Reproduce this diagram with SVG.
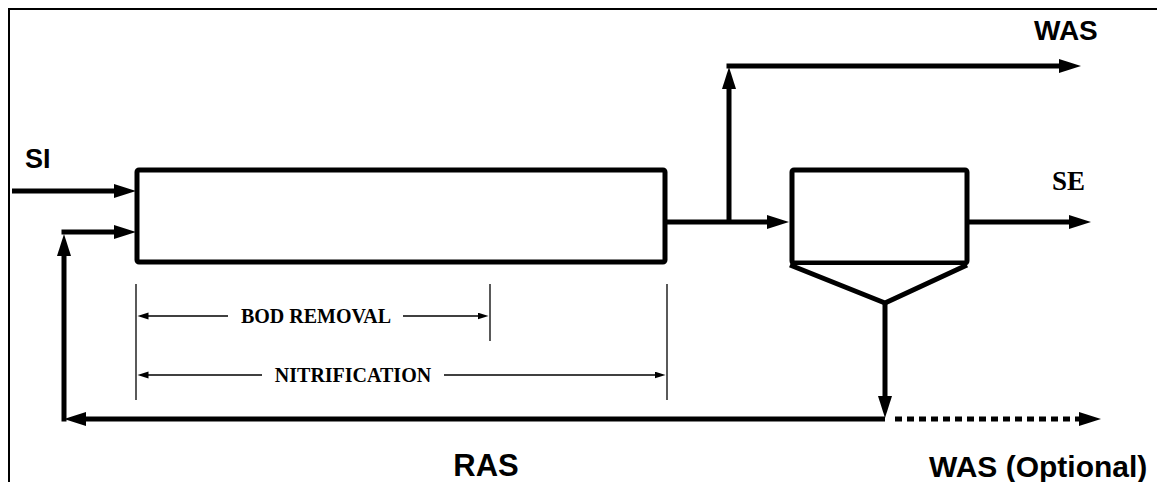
<svg xmlns="http://www.w3.org/2000/svg" width="1157" height="482" viewBox="0 0 1157 482">
<style>
.frame{fill:none;stroke:#000;stroke-width:2}
.unit{fill:#fff;stroke:#000;stroke-width:5;stroke-linejoin:round}
.flow{fill:none;stroke:#000;stroke-width:5}
.dot{fill:none;stroke:#000;stroke-width:5;stroke-dasharray:7 5}
.dim{fill:none;stroke:#000;stroke-width:1.3}
.lbl{font-family:"Liberation Sans",Arial,sans-serif;font-weight:bold;fill:#000}
.lbs{font-family:"Liberation Serif","Times New Roman",serif;font-weight:bold;fill:#000}
</style>
<defs>
<marker id="ah" markerUnits="userSpaceOnUse" markerWidth="24" markerHeight="16" refX="1" refY="7" orient="auto">
<path d="M0,0 L22,7 L0,14 z" fill="#000"/>
</marker>
<marker id="as" markerUnits="userSpaceOnUse" markerWidth="14" markerHeight="8" refX="0.5" refY="3.5" orient="auto">
<path d="M0,0 L11,3.5 L0,7 z" fill="#000"/>
</marker>
</defs>
<rect width="1157" height="482" fill="#fff"/>
<path class="frame" d="M9,482 L9,9 L1157,9"/>

<g id="aeration-tank">
<rect class="unit" x="137" y="170" width="528" height="92" rx="2"/>
</g>
<g id="clarifier">
<rect class="unit" x="792" y="170" width="175" height="93" rx="2"/>
<polyline class="unit" points="790,265 885,303 967,265" fill="none"/>
</g>

<g id="connectors">
<line class="flow" x1="12" y1="191" x2="115" y2="191" marker-end="url(#ah)"/>
<line class="flow" x1="64" y1="421.5" x2="64" y2="255" marker-end="url(#ah)"/>
<line class="flow" x1="61.5" y1="232" x2="115" y2="232" marker-end="url(#ah)"/>
<line class="flow" x1="665" y1="222" x2="768" y2="222" marker-end="url(#ah)"/>
<line class="flow" x1="729" y1="222" x2="729" y2="88" marker-end="url(#ah)"/>
<line class="flow" x1="726.5" y1="66" x2="1060" y2="66" marker-end="url(#ah)"/>
<line class="flow" x1="967" y1="222" x2="1070" y2="222" marker-end="url(#ah)"/>
<line class="flow" x1="885" y1="303" x2="885" y2="397" marker-end="url(#ah)"/>
<line class="flow" x1="885" y1="419" x2="85" y2="419" marker-end="url(#ah)"/>
<line class="dot" x1="895" y1="419" x2="1080" y2="419" marker-end="url(#ah)"/>
</g>

<g id="dimensions">
<line class="dim" x1="136" y1="284" x2="136" y2="400"/>
<line class="dim" x1="490" y1="284" x2="490" y2="341"/>
<line class="dim" x1="667" y1="284" x2="667" y2="400"/>
<line class="dim" x1="228" y1="316" x2="148" y2="316" marker-end="url(#as)"/>
<line class="dim" x1="403" y1="316" x2="478" y2="316" marker-end="url(#as)"/>
<line class="dim" x1="262" y1="375" x2="148" y2="375" marker-end="url(#as)"/>
<line class="dim" x1="444" y1="375" x2="655" y2="375" marker-end="url(#as)"/>
<text class="lbs" x="316" y="323" font-size="20" text-anchor="middle">BOD REMOVAL</text>
<text class="lbs" x="353" y="382" font-size="20" text-anchor="middle">NITRIFICATION</text>
</g>

<g id="labels">
<text class="lbl" x="25" y="168" font-size="27">SI</text>
<text class="lbl" x="1034" y="40" font-size="28">WAS</text>
<text class="lbs" x="1052" y="190" font-size="27">SE</text>
<text class="lbl" x="486" y="476" font-size="31" text-anchor="middle">RAS</text>
<text class="lbl" x="929" y="477" font-size="30">WAS (Optional)</text>
</g>
</svg>
